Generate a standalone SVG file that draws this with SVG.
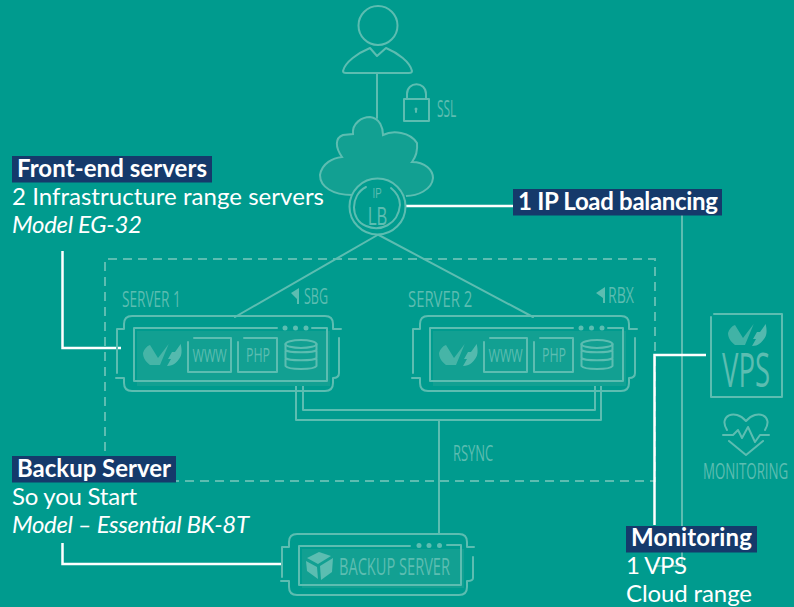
<svg xmlns="http://www.w3.org/2000/svg" width="794" height="607" viewBox="0 0 794 607">
<style>
.l{fill:none;stroke:#5cbdb1;stroke-width:2;stroke-linecap:round;stroke-linejoin:round}
.d{fill:none;stroke:#5cbdb1;stroke-width:2}
.w{fill:none;stroke:#fff;stroke-width:2.500}
.h{font-family:"Open Sans","DejaVu Sans",sans-serif;fill:#5cbdb1;font-weight:400}
.n{font-family:"Liberation Sans",sans-serif;fill:#5cbdb1}
.p{fill:#12a092}
.s{fill:#5cbdb1}
.b{fill:#153a6b}
.lb{font-family:Lato,"Liberation Sans",sans-serif;font-size:24px;fill:#fff}
.bd{font-weight:700}
.it{font-style:italic}
</style>
<defs>
<g id="ovh">
<path class="s" opacity=".7" d="M0,9 C1,5 4,2 7,1 L15,14 L25.700,0 L17,21 H7 C3,18 0,14 0,9Z"/>
<path class="s" opacity=".9" d="M37.700,0 C39,6 39,11 36.700,14 C34,18 31,22 24,22 L28,15 L25,15 L29,8 H32Z"/>
</g>
<g id="db">
<ellipse cx="16" cy="5" rx="15.500" ry="4" fill="#12a092" stroke="#5cbdb1" stroke-width="2"/>
<path class="l" d="M0.500,5 V11 C3,14 29,14 31.500,11 V5 M0.500,12 V19 C3,22 29,22 31.500,19 V12 M0.500,20 V27 C3,31 29,31 31.500,27 V20"/>
</g>
<g id="srv">
<path class="p" d="M137,331 H330 V386 H137Z"/>
<path class="l" d="M124,329 V324 Q124,316 132,316 H325 Q333,316 333,324 V329 H341 M339,338 V373 Q339,378 333,378 V383 Q333,391 325,391 H132 Q124,391 124,383 V378 H116 M117,373 V329 H124"/>
<path class="l" d="M277,328 H134 V381 H327 V328 H312"/>
<circle class="s" cx="285" cy="328" r="2.500"/><circle class="s" cx="295.500" cy="328" r="2.500"/><circle class="s" cx="306" cy="328" r="2.500"/>
<use href="#ovh" x="143" y="344"/>
<path class="l" d="M188,342 V372 H231 V338 H194"/>
<path class="l" d="M238,342 V372 H277 V338 H244"/>
<text class="h" transform="translate(192.500,362) scale(.7,1)" font-size="19" textLength="49" lengthAdjust="spacingAndGlyphs">WWW</text>
<text class="h" transform="translate(246,362) scale(.6,1)" font-size="20" textLength="40" lengthAdjust="spacingAndGlyphs">PHP</text>
<use href="#db" x="285" y="339"/>
</g>
</defs>
<rect width="794" height="607" fill="#009b8e"/>
<g id="connectors">
<path class="d" stroke-dasharray="9 6" d="M105,481 V259 H655 V481 H105"/>
<path class="l" d="M377,74 V118"/>
<path class="l" d="M381,233 L235,317 M375,233 L533,317"/>
<path class="l" d="M682,214 V566 H655"/>
<path class="l" d="M296,372 V420 H601 V372 M303,372 V410 H595 V372 M439,420 V533"/>
<path class="w" d="M405,206 H514"/>
<path class="w" d="M62.500,251 V348 H121"/>
<path class="w" d="M62.500,543 V564 H283"/>
<path class="w" d="M706,355 H654.500 V525"/>
</g>
<g id="user">
<circle class="l" cx="378" cy="25.500" r="19.500"/>
<path class="l" d="M343,71 C345,62 358,53 370,48 L377,56 L386,48 C398,53 410,62 412,71 Q412,73 409,73 H346 Q343,73 343,71Z"/>
</g>
<g id="ssl">
<path class="l" d="M404,99 H429 V121 H404Z M407,99 V94 C407,81 426,81 426,94 V99"/>
<circle class="s" cx="416" cy="109" r="1.500"/><path class="l" d="M416,110 V112"/>
<text class="h" transform="translate(437,117) scale(.6,1)" font-size="23" textLength="32" lengthAdjust="spacingAndGlyphs">SSL</text>
</g>
<g id="cloud">
<path fill="#12a092" stroke="#5cbdb1" stroke-width="2" d="M352,195 C333,195 320,187 320,175 C322,163 333,158 342,157 C335,147 335,138 343,135 L353,134 C352,123 362,117 370,117 C380,118 383,128 383,135 C393,130 410,132 417,143 C418,153 415,158 412,162 C425,162 433,170 433,178 C432,190 417,196 406,196"/>
<circle cx="377.500" cy="206.500" r="28" fill="#009b8e" stroke="#5cbdb1" stroke-width="2"/>
<path class="l" d="M366,187 C350,195 350,220 366,226 C380,232 398,225 400,205 C400,197 396,192 391,188"/>
<text class="n" transform="translate(372.500,198) scale(.7,1)" font-size="14" textLength="13" lengthAdjust="spacingAndGlyphs">IP</text>
<text class="n" transform="translate(368,225) scale(.6,1)" font-size="26" textLength="32" lengthAdjust="spacingAndGlyphs">LB</text>
</g>
<g id="server-1">
<use href="#srv"/>
<text class="h" transform="translate(122,307) scale(.6,1)" font-size="22" textLength="98" lengthAdjust="spacingAndGlyphs">SERVER 1</text>
<path class="s" d="M291,293 L299,288 V304 L297,304 V299Z"/>
<text class="h" transform="translate(304,304) scale(.6,1)" font-size="22" textLength="40" lengthAdjust="spacingAndGlyphs">SBG</text>
</g>
<g id="server-2">
<use href="#srv" x="296"/>
<text class="h" transform="translate(408,307) scale(.6,1)" font-size="22" textLength="107" lengthAdjust="spacingAndGlyphs">SERVER 2</text>
<path class="s" d="M596,293 L605,287 V303 L603,303 V298Z"/>
<text class="h" transform="translate(608,303) scale(.6,1)" font-size="22" textLength="43" lengthAdjust="spacingAndGlyphs">RBX</text>
</g>
<text id="rsync" class="h" transform="translate(453,461) scale(.6,1)" font-size="22" textLength="67" lengthAdjust="spacingAndGlyphs">RSYNC</text>
<g id="vps">
<path class="l" d="M714,314 H782 V397 H711 V317"/>
<use href="#ovh" x="728" y="324"/>
<text class="h" transform="translate(722,387) scale(.6,1)" font-size="47" textLength="80" lengthAdjust="spacingAndGlyphs">VPS</text>
</g>
<g id="monitoring">
<path class="l" d="M727,430 C718,416 735,408 746,421 C757,408 774,416 765,430 M729,441 L746,455 L763,441"/>
<path class="l" d="M723,435 H733 L738,430 L742,438 L748,427 L755,442 L760,435 H769"/>
<text class="h" transform="translate(703,479) scale(.6,1)" font-size="22" textLength="142" lengthAdjust="spacingAndGlyphs">MONITORING</text>
</g>
<g id="backup">
<path class="p" d="M302,549 H464 V588 H302Z"/>
<path class="l" d="M289,547 V542 Q289,534 297,534 H459 Q467,534 467,542 V547 H474 M473,557 V578 Q473,581 467,581 V587 Q467,595 459,595 H297 Q289,595 289,587 V581 H281 M282,577 V547 H289"/>
<path class="l" d="M410,546 H299 V585 H461 V545 H447"/>
<circle class="s" cx="419" cy="545.500" r="2.500"/><circle class="s" cx="429" cy="545.500" r="2.500"/><circle class="s" cx="439.500" cy="545.500" r="2.500"/>
<path class="s" d="M319,552 L331,556 L318,564 L307,558Z M333,558 L332,572 L321,580 L320,566Z M306,561 L317,567 L318,579 L307,571Z"/>
<text class="h" transform="translate(339,575) scale(.6,1)" font-size="24" textLength="185" lengthAdjust="spacingAndGlyphs">BACKUP SERVER</text>
</g>
<g id="label-front">
<rect class="b" x="12" y="156" width="200" height="26.500"/>
<text class="lb bd" x="17" y="177" textLength="190">Front-end servers</text>
<text class="lb" x="12" y="205" textLength="312">2 Infrastructure range servers</text>
<text class="lb it" x="12" y="233" textLength="130">Model EG-32</text>
</g>
<g id="label-lb">
<rect class="b" x="513" y="189" width="209" height="26.500"/>
<text class="lb bd" x="518" y="210" textLength="200">1 IP Load balancing</text>
</g>
<g id="label-backup">
<rect class="b" x="12" y="456" width="164" height="26.500"/>
<text class="lb bd" x="17" y="477" textLength="154">Backup Server</text>
<text class="lb" x="12" y="505" textLength="125">So you Start</text>
<text class="lb it" x="12" y="533" textLength="237">Model – Essential BK-8T</text>
</g>
<g id="label-monitoring">
<rect class="b" x="626" y="526" width="131" height="26.500"/>
<text class="lb bd" x="631" y="546" textLength="121">Monitoring</text>
<text class="lb" x="626" y="574" textLength="61">1 VPS</text>
<text class="lb" x="626" y="602" textLength="126">Cloud range</text>
</g>
</svg>
